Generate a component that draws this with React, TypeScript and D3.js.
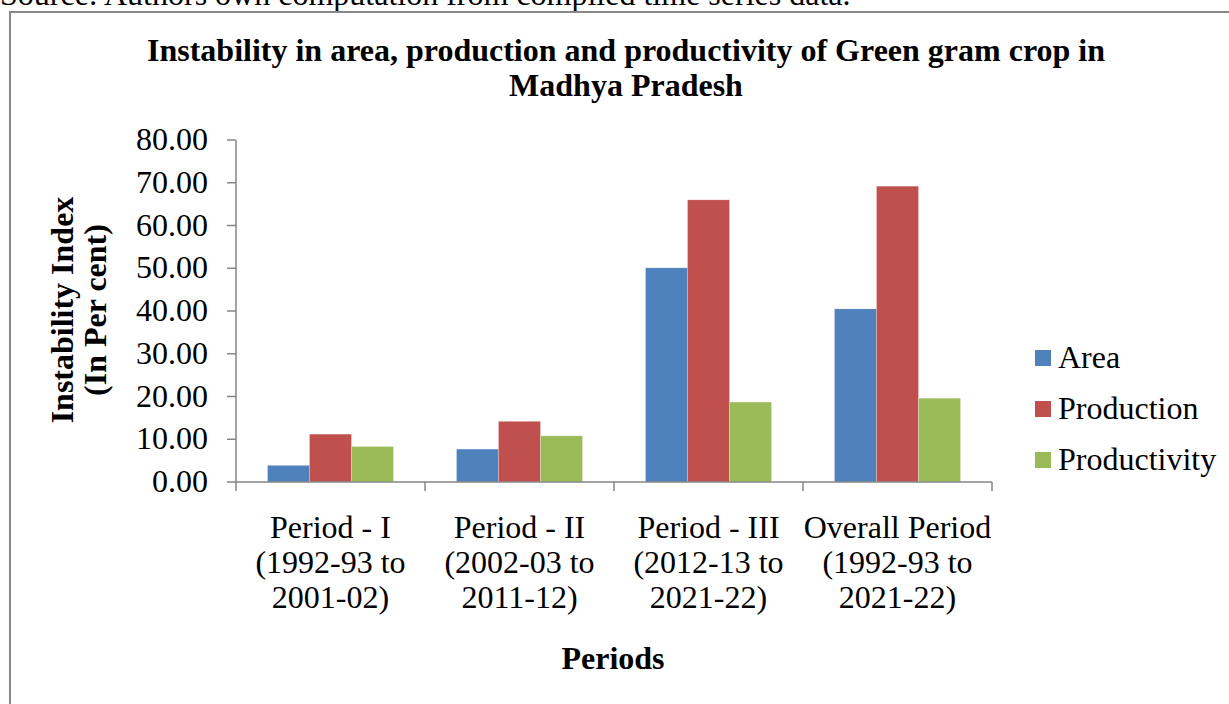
import React from "react";
import * as d3 from "d3";

const categories = [
  ["Period - I", "(1992-93 to", "2001-02)"],
  ["Period - II", "(2002-03 to", "2011-12)"],
  ["Period - III", "(2012-13 to", "2021-22)"],
  ["Overall Period", "(1992-93 to", "2021-22)"],
];
const seriesNames = ["Area", "Production", "Productivity"];
const area = [3.9, 7.7, 50.1, 40.5];
const production = [11.2, 14.2, 66.0, 69.2];
const productivity = [8.3, 10.8, 18.7, 19.6];
const yTicks = [0, 10, 20, 30, 40, 50, 60, 70, 80];
const colors = ["#4F81BD", "#C0504D", "#9BBB59"];

export default function App() {
  const W = 1229, H = 704;
  const x0 = 236, x1 = 992, yTop = 140, yBot = 482;
  const y = d3.scaleLinear().domain([0, 80]).range([yBot, yTop]);
  const xb = d3.scaleBand().domain(d3.range(categories.length).map(String)).range([x0, x1]);
  const bw = xb.bandwidth();
  const barW = bw / (3 + 1.5);
  const series = [area, production, productivity];
  const font = "'Liberation Serif', 'Times New Roman', serif";
  const axisColor = "#868686";
  const fs = 32;
  return (
    <svg width={W} height={H} style={{ position: "fixed", left: 0, top: 0, background: "#fff" }} fontFamily={font}>
      <rect x={0} y={0} width={W} height={H} fill="#fff" />
      <text x={0} y={5} fontSize={fs} fill="#000">Source: Authors own computation from compiled time series data.</text>
      <path d={`M10,${H} V12 H${W}`} fill="none" stroke="#888" strokeWidth={2} />
      <text x={626} y={61} textAnchor="middle" fontSize={fs} fontWeight="bold">Instability in area, production and productivity of Green gram crop in</text>
      <text x={626} y={96} textAnchor="middle" fontSize={fs} fontWeight="bold">Madhya Pradesh</text>
      {/* bars */}
      {categories.map((c, i) => {
        const bx = xb(String(i))! + barW * 0.75;
        return series.map((s, k) => (
          <rect key={`${i}-${k}`} x={bx + k * barW} y={y(s[i])} width={barW} height={y(0) - y(s[i])} fill={colors[k]} stroke="#fff" strokeOpacity={0.4} strokeWidth={0.6} />
        ));
      })}
      {/* y axis */}
      <line x1={x0} x2={x0} y1={yTop} y2={yBot} stroke={axisColor} strokeWidth={1.5} />
      {yTicks.map((t) => (
        <g key={t}>
          <line x1={x0 - 9} x2={x0} y1={y(t)} y2={y(t)} stroke={axisColor} strokeWidth={1.5} />
          <text x={208} y={y(t) + 10} textAnchor="end" fontSize={fs}>{t.toFixed(2)}</text>
        </g>
      ))}
      {/* x axis */}
      <line x1={x0} x2={x1} y1={yBot} y2={yBot} stroke={axisColor} strokeWidth={1.5} />
      {d3.range(categories.length + 1).map((i) => {
        const xx = i < categories.length ? xb(String(i))! : x1;
        return <line key={i} x1={xx} x2={xx} y1={yBot} y2={yBot + 9} stroke={axisColor} strokeWidth={1.5} />;
      })}
      {categories.map((c, i) => (
        <text key={i} x={xb(String(i))! + bw / 2} textAnchor="middle" fontSize={fs}>
          {c.map((line, j) => (
            <tspan key={j} x={xb(String(i))! + bw / 2} y={538 + j * 35}>{line}</tspan>
          ))}
        </text>
      ))}
      <text x={613} y={669} textAnchor="middle" fontSize={fs} fontWeight="bold">Periods</text>
      <g transform="translate(73,310) rotate(-90)">
        <text x={0} y={0} textAnchor="middle" fontSize={fs} fontWeight="bold">Instability Index</text>
        <text x={0} y={33} textAnchor="middle" fontSize={fs} fontWeight="bold">(In Per cent)</text>
      </g>
      {/* legend */}
      {seriesNames.map((n, k) => (
        <g key={n} transform={`translate(1035,${358 + k * 51})`}>
          <rect x={0} y={-8} width={16} height={16} fill={colors[k]} />
          <text x={23} y={10} fontSize={fs}>{n}</text>
        </g>
      ))}
    </svg>
  );
}
